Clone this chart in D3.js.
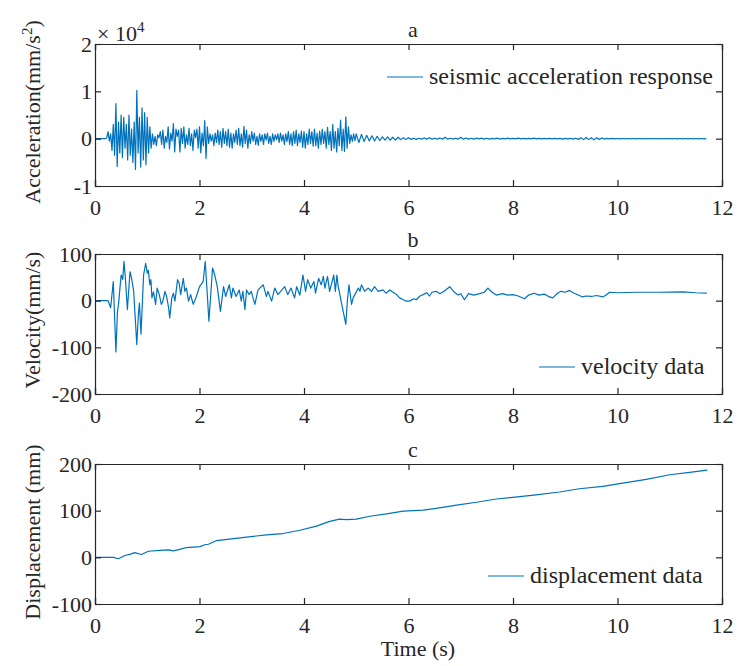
<!DOCTYPE html>
<html><head><meta charset="utf-8">
<script src="https://cdn.jsdelivr.net/npm/d3@7"></script>
<style>
body{margin:0;background:#fff;}
text{font-family:"Liberation Serif","Times New Roman",serif;fill:#262626;}
</style></head>
<body><svg id="c" width="740" height="666"></svg>
<script>
// ---------- DATA ----------
const xTicks = [0, 2, 4, 6, 8, 10, 12];
const titles = ["a", "b", "c"];
const legendLabels = ["seismic acceleration response", "velocity data", "displacement data"];
const yLabels = ["Acceleration(mm/s", "Velocity(mm/s)", "Displacement (mm)"];
const accelTicks = [-1, 0, 1, 2];       // ×10^4
const velTicks = [-200, -100, 0, 100];
const dispTicks = [-100, 0, 100, 200];

// acceleration (×10^4 mm/s^2), sampled every 0.025 s from 0 s (rows of 0.2 s)
const accelEarlyStart = 0, accelEarlyStep = 0.025;
const accelEarly = [
 0,0,0,0,0,0,0,0,
 0,0.02,0.15,-0.05,0.1,-0.25,0.3,-0.35,
 0.74,-0.59,0.35,-0.3,0.5,-0.4,0.45,-0.2,
 0.3,-0.45,0.5,-0.35,0.2,-0.5,0.35,-0.65,
 1.02,-0.3,0.45,-0.6,0.65,-0.45,0.55,-0.55,
 0.45,-0.3,0.25,-0.2,0.1,-0.12,0.05,-0.15,
 0.08,0.02,0.15,-0.12,0.18,-0.2,0.05,-0.08,
 0.25,-0.22,0.12,-0.05,0.32,-0.28,0.2,0.05,
 0.18,-0.28,0.22,-0.1,0.25,-0.2,0.08,-0.12,
 0.22,-0.15,0.1,-0.25,0.18,0.02,0.2,-0.2,
 0.25,-0.3,0.12,-0.15,0.38,-0.42,0.25,-0.1,
 0.1,-0.05,0.08,-0.15,0.12,-0.08,0.18,-0.12,
 0.15,-0.18,0.22,-0.1,0.15,-0.15,0.2,-0.18,
 0.12,-0.2,0.1,-0.08,0.18,-0.12,0.22,-0.15,
 0.1,-0.18,0.26,-0.1,0.18,-0.2,0.08,-0.1,
 0.15,-0.05,0.12,-0.12,0.05,-0.14,0.1,-0.06,
 0.08,-0.12,0.1,-0.03,0.12,-0.1,0.05,-0.12,
 0.1,-0.06,0.08,-0.02,0.1,-0.08,0.12,-0.05,
 0.08,-0.12,0.1,-0.06,0.15,-0.12,0.1,-0.15,
 0.15,-0.1,0.18,-0.15,0.1,-0.08,0.16,-0.18,
 0.15,-0.2,0.1,-0.12,0.2,-0.1,0.15,-0.16,
 0.2,-0.15,0.12,-0.2,0.16,-0.12,0.2,-0.1,
 0.15,-0.2,0.24,-0.12,0.15,-0.25,0.3,-0.2,
 0.15,-0.28,0.22,-0.15,0.39,-0.25,0.2,-0.27,
 0.46,-0.2,0.25,-0.1,0.08,-0.06,0.1,-0.04
];
// acceleration (×10^4 mm/s^2), sampled every 0.05 s from 5.0 s (rows of 0.5 s)
const accelLateStart = 5.0, accelLateStep = 0.05;
const accelLate = [
 0.1,-0.08,0.09,-0.06,0.07,-0.05,0.06,-0.05,0.05,-0.04,
 0.04,-0.03,0.04,-0.03,0.03,-0.03,0.03,-0.02,0.02,-0.02,
 0.02,-0.015,0.01,-0.015,0.01,-0.01,0.015,-0.01,0.02,-0.01,
 0.01,-0.01,0.015,-0.01,0.03,-0.01,0.01,-0.01,0.01,-0.01,
 0.03,-0.01,0.015,-0.01,0.01,-0.01,0.01,-0.005,0.01,-0.01,
 0.01,-0.01,0.005,-0.005,0.01,-0.01,0.005,-0.005,0.01,-0.005,
 0.005,-0.005,0.01,-0.005,0.005,-0.005,0.005,-0.005,0.01,-0.005,
 0.005,-0.005,0.005,-0.005,0.005,-0.005,0.005,-0.005,0.005,-0.01,
 0.005,-0.005,0.005,-0.01,0.01,-0.015,0.02,-0.02,0.025,-0.02,
 0.02,-0.025,0.02,-0.015,0.015,-0.01,0.005,-0.005,0.005,-0.005,
 0.003,-0.003,0.003,-0.003,0.003,-0.003,0.003,-0.003,0.003,-0.003,
 0.003,-0.003,0.003,-0.003,0.003,-0.003,0.003,-0.003,0.003,-0.003,
 0.003,-0.003,0.003,-0.003,0.003,-0.003,0.003,-0.003,0.003,-0.003,
 0.003,-0.003,0.003,-0.003,0
];

// velocity (mm/s)
const velT = [0,0.25,0.3,0.35,0.40,0.43,0.45,0.50,0.53,0.555,0.58,0.62,0.67,0.70,0.74,0.80,0.83,0.85,0.88,0.93,0.97,1.00,1.02,1.05,1.07,1.09,1.12,1.16,1.19,1.23,1.27,1.30,1.34,1.37,1.41,1.43,1.47,1.50,1.53,1.58,1.61,1.64,1.69,1.72,1.75,1.79,1.83,1.88,1.94,2.00,2.07,2.11,2.14,2.18,2.25,2.29,2.34,2.40,2.46,2.50,2.57,2.61,2.64,2.70,2.76,2.80,2.83,2.87,2.90,2.95,2.99,3.06,3.12,3.22,3.28,3.31,3.38,3.44,3.50,3.63,3.69,3.75,3.82,3.86,3.92,3.98,4.03,4.07,4.13,4.19,4.22,4.28,4.33,4.37,4.40,4.45,4.49,4.57,4.60,4.63,4.65,4.71,4.75,4.80,4.83,4.86,4.91,4.94,5.04,5.07,5.10,5.16,5.23,5.29,5.35,5.42,5.51,5.57,5.64,5.77,5.83,5.90,5.96,6.02,6.10,6.15,6.22,6.28,6.35,6.40,6.45,6.53,6.60,6.68,6.79,6.88,6.95,7.00,7.07,7.15,7.25,7.36,7.45,7.52,7.60,7.68,7.80,7.90,8.00,8.10,8.22,8.30,8.40,8.50,8.60,8.70,8.76,8.85,8.92,9.00,9.08,9.15,9.25,9.33,9.40,9.50,9.60,9.72,9.78,9.85,10.0,10.36,10.8,11.25,11.5,11.71];
const velV = [0,0,-15,41,-110,-23,-8,55,45,84,50,-19,62,48,20,-94,-30,-5,-72,55,80,59,65,34,45,6,19,-8,27,13,-8,0,20,9,-16,-37,6,16,-1,45,38,13,48,20,27,-1,13,-8,9,30,41,84,30,-44,70,56,30,-23,30,9,34,6,27,9,23,-1,20,-19,23,13,20,-8,23,34,9,20,-1,27,13,30,13,27,6,30,12,55,20,45,27,41,16,48,34,52,27,52,20,55,20,55,34,-1,-23,-51,-1,34,-8,6,27,20,34,20,27,20,30,20,23,16,23,13,6,2,-1,-1,4,2,10,13,17,10,18,20,15,20,30,18,12,15,2,15,12,15,18,27,18,12,15,12,13,10,4,12,16,12,14,8,6,16,20,18,22,17,12,8,10,9,11,8,12,18,17,18,18,19,17,16];

// displacement (mm)
const dispT = [0,0.35,0.45,0.57,0.68,0.76,0.89,1.02,1.24,1.40,1.50,1.62,1.75,2.01,2.10,2.17,2.33,2.65,3.03,3.28,3.60,3.92,4.24,4.49,4.68,4.81,5.0,5.26,5.58,5.90,6.28,6.53,6.92,7.30,7.68,8.13,8.44,8.89,9.27,9.72,10.10,10.55,11.0,11.38,11.72];
const dispV = [0,0,-3,4,7,10,6,13,15,16,14,17,21,23,27,28,36,40,45,48,51,58,67,77,82,81,82,88,93,99,101,105,112,118,125,130,134,140,147,152,159,167,177,182,187];

// ---------- DRAW ----------
const svg = d3.select("#c");
const FONT = 22, LEGEND_FONT = 24;
const SERIF = '"Liberation Serif","Times New Roman",serif';
const axisColor = "#262626";
const lineColor = "#0072BD";
const x = d3.scaleLinear().domain([0, 12]).range([95, 722]);
const fmt = d => String(d);

const accelPts = accelEarly.map((v, i) => [accelEarlyStart + i * accelEarlyStep, v])
  .concat(accelLate.map((v, i) => [accelLateStart + i * accelLateStep, v]));
const velPts = velT.map((t, i) => [t, velV[i]]);
const dispPts = dispT.map((t, i) => [t, dispV[i]]);

const panels = [
  {top: 44, bottom: 186, domain: [-1, 2], ticks: accelTicks, data: accelPts,
   legend: {lineX: 387, y: 77}, ylabY: 112},
  {top: 254, bottom: 394, domain: [-200, 100], ticks: velTicks, data: velPts,
   legend: {lineX: 539, y: 367}, ylabY: 320},
  {top: 464, bottom: 604, domain: [-100, 200], ticks: dispTicks, data: dispPts,
   legend: {lineX: 488, y: 576}, ylabY: 532}
];

panels.forEach((p, k) => {
  const y = d3.scaleLinear().domain(p.domain).range([p.bottom, p.top]);
  const g = svg.append("g");

  g.append("path")
    .datum(p.data)
    .attr("fill", "none")
    .attr("stroke", lineColor)
    .attr("stroke-width", 1.2)
    .attr("stroke-linejoin", "round")
    .attr("d", d3.line().x(d => x(d[0])).y(d => y(d[1])));

  const ax = [
    g.append("g").attr("transform", `translate(0,${p.bottom})`)
      .call(d3.axisBottom(x).tickValues(xTicks).tickSize(-6).tickPadding(13).tickFormat(fmt)),
    g.append("g").attr("transform", `translate(0,${p.top})`)
      .call(d3.axisTop(x).tickValues(xTicks).tickSize(-6).tickFormat("")),
    g.append("g").attr("transform", `translate(95,0)`)
      .call(d3.axisLeft(y).tickValues(p.ticks).tickSize(-6).tickPadding(3).tickFormat(fmt)),
    g.append("g").attr("transform", `translate(722,0)`)
      .call(d3.axisRight(y).tickValues(p.ticks).tickSize(-6).tickFormat(""))
  ];
  ax.forEach(a => {
    a.select(".domain").attr("stroke", axisColor).attr("stroke-width", 1.2);
    a.selectAll(".tick line").attr("stroke", axisColor).attr("stroke-width", 1.2);
    a.selectAll(".tick text").style("font-family", SERIF)
      .style("font-size", FONT + "px").attr("fill", axisColor);
  });

  svg.append("text").attr("x", 413).attr("y", p.top - 7)
    .attr("text-anchor", "middle").style("font-size", FONT + "px").text(titles[k]);

  const yl = svg.append("text")
    .attr("transform", `translate(40,${p.ylabY}) rotate(-90)`)
    .attr("text-anchor", "middle").style("font-size", FONT + "px");
  if (k === 0) {
    yl.append("tspan").text(yLabels[0]);
    yl.append("tspan").attr("dy", -8).style("font-size", "15px").text("2");
    yl.append("tspan").attr("dy", 8).text(")");
  } else {
    yl.text(yLabels[k]);
  }

  const lg = svg.append("g");
  lg.append("line").attr("x1", p.legend.lineX).attr("x2", p.legend.lineX + 36)
    .attr("y1", p.legend.y).attr("y2", p.legend.y)
    .attr("stroke", lineColor).attr("stroke-width", 1.2);
  lg.append("text").attr("x", p.legend.lineX + 42).attr("y", p.legend.y + 7)
    .style("font-size", LEGEND_FONT + "px").text(legendLabels[k]);
});

const ex = svg.append("text").attr("x", 97).attr("y", 41).style("font-size", FONT + "px");
ex.append("tspan").text("× 10");
ex.append("tspan").attr("dy", -9).style("font-size", "15px").text("4");

svg.append("text").attr("x", 418).attr("y", 656).attr("text-anchor", "middle")
  .style("font-size", FONT + "px").text("Time (s)");
</script></body></html>
